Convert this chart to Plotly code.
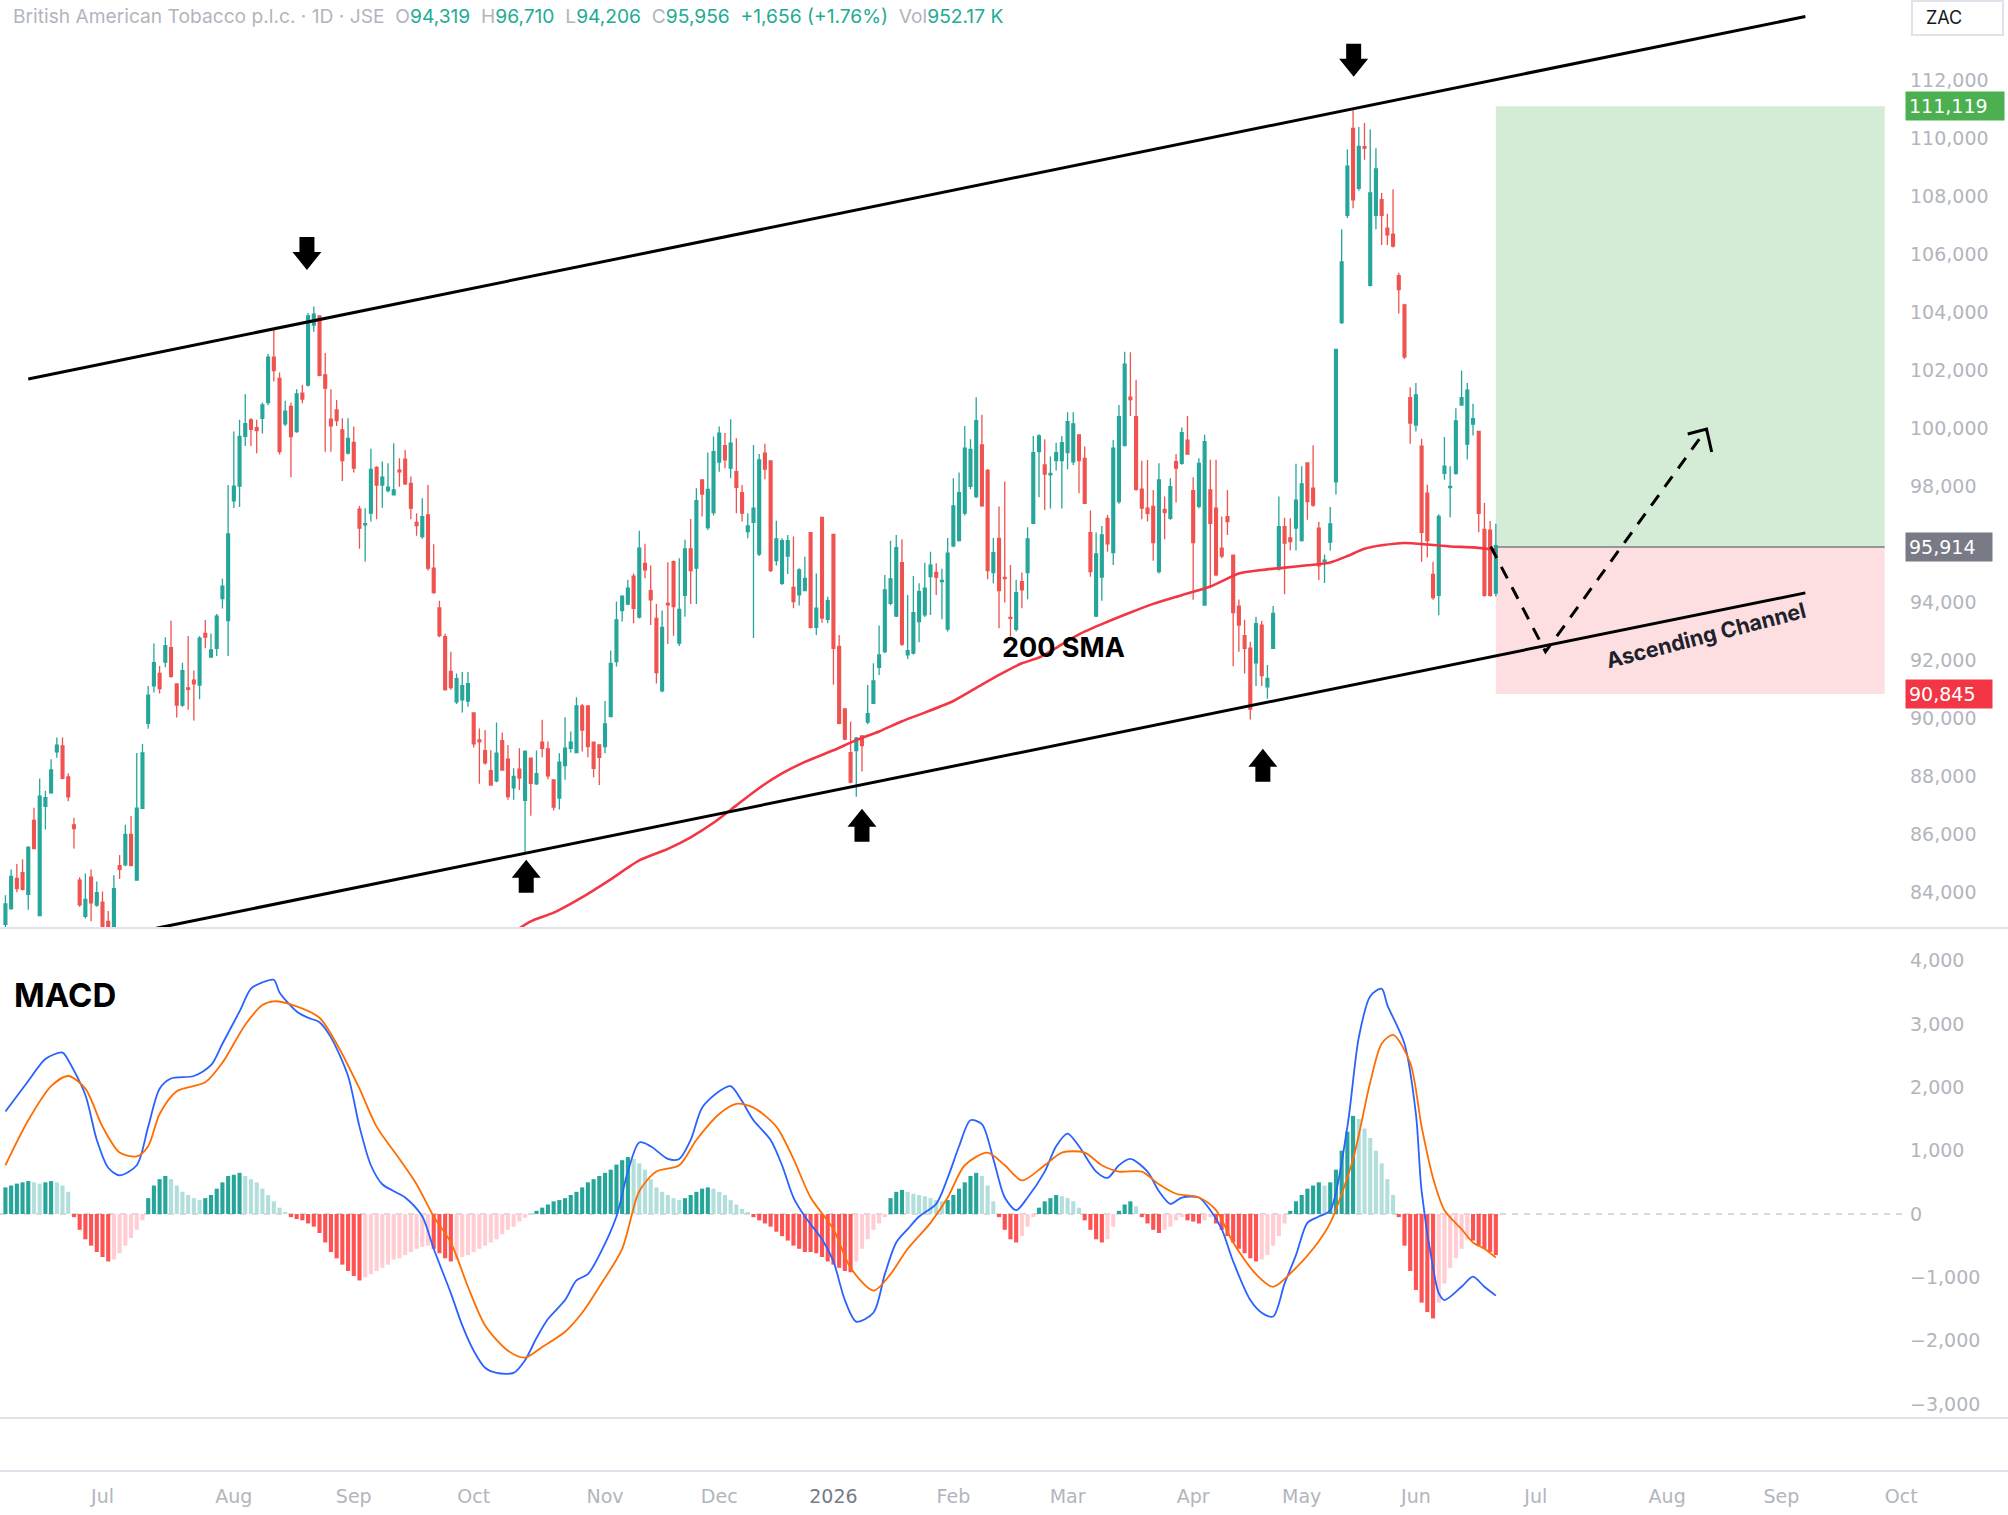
import numpy as np
import pandas as pd
import plotly.graph_objects as go

# ---------------- data ----------------
start_date = "2025-06-05"
jse_holidays = ["2025-06-16", "2025-09-24", "2025-12-16", "2025-12-25", "2025-12-26",
                "2026-01-01", "2026-04-03", "2026-04-06", "2026-04-27", "2026-05-01",
                "2026-06-16", "2026-08-10", "2026-09-24"]

# prices in thousands of ZAC
open_k = [
    82.9, 83.44, 84.48, 84.68, 83.93, 86.48, 83.2, 86.97, 87.43, 88.85,
    89.05, 87.98, 86.33, 84.42, 83.17, 84.52, 83.56, 83.66, 83.0, 82.8,
    84.92, 84.95, 86.0, 84.42, 86.9, 89.83, 91.12, 91.55, 91.94, 92.44,
    91.19, 90.46, 91.05, 91.32, 91.15, 92.93, 92.11, 92.42, 94.13, 93.37,
    97.5, 98.01, 99.73, 100.3, 100.03, 100.35, 100.89, 102.46, 101.73, 100.16,
    100.76, 99.89, 101.22, 101.5, 103.57, 103.88, 101.85, 100.32, 100.64, 99.95,
    99.15, 99.52, 97.22, 96.68, 97.08, 98.66, 98.05, 97.86, 97.71, 98.56,
    98.94, 98.11, 96.76, 96.27, 97.02, 95.18, 93.81, 92.82, 91.62, 90.57,
    90.64, 90.6, 90.19, 89.26, 88.89, 88.2, 87.85, 89.23, 88.59, 87.6,
    88.25, 87.17, 88.63, 87.74, 89.18, 88.95, 87.88, 87.25, 88.37, 88.97,
    88.82, 90.43, 90.43, 89.18, 89.09, 89.03, 90.06, 91.96, 93.72, 93.94,
    94.91, 93.49, 95.35, 94.41, 93.45, 90.95, 93.97, 95.41, 92.6, 94.24,
    95.85, 95.18, 98.23, 96.58, 97.1, 98.84, 99.41, 98.63, 98.51, 97.79,
    96.44, 96.76, 95.67, 99.15, 98.88, 95.44, 94.66, 95.6, 94.52, 94.26,
    94.41, 96.41, 93.14, 96.93, 93.42, 96.35, 92.48, 90.33, 88.82, 88.89,
    89.4, 89.87, 90.52, 91.76, 92.3, 93.97, 93.53, 95.37, 92.19, 92.25,
    93.34, 93.57, 94.89, 95.04, 94.72, 93.08, 95.95, 96.13, 97.08, 98.0,
    97.65, 99.43, 98.55, 95.03, 96.21, 94.86, 93.48, 93.07, 94.72, 95.03,
    96.73, 99.2, 98.74, 98.4, 98.89, 98.89, 99.17, 98.85, 99.78, 98.97,
    96.41, 93.53, 94.87, 96.9, 95.72, 97.48, 99.41, 101.08, 100.41, 97.91,
    97.25, 97.31, 95.06, 97.21, 96.9, 98.86, 98.8, 99.6, 97.86, 97.31,
    93.91, 97.88, 97.25, 95.87, 96.96, 95.63, 93.87, 92.85, 92.42, 91.92,
    93.22, 91.09, 92.42, 95.15, 96.61, 96.23, 96.56, 96.13, 98.81, 97.94,
    96.56, 95.42, 96.08, 98.16, 103.65, 107.35, 110.35, 108.28, 109.72, 104.94,
    107.35, 107.89, 106.91, 106.7, 105.27, 104.26, 101.06, 100.12, 99.39, 97.77,
    94.97, 94.24, 98.45, 97.96, 98.45, 100.81, 99.46, 100.15, 99.9, 96.52,
    96.49, 94.319]
high_k = [
    83.9, 84.79, 84.98, 85.14, 85.6, 86.92, 87.93, 87.5, 88.59, 89.34,
    89.34, 88.1, 86.57, 84.52, 84.65, 84.79, 84.37, 84.03, 83.36, 84.59,
    85.29, 86.33, 86.63, 88.81, 89.12, 91.12, 92.58, 91.81, 92.8, 93.37,
    91.2, 91.92, 92.84, 91.65, 92.84, 93.39, 92.93, 93.6, 94.82, 98.05,
    99.9, 100.3, 101.18, 100.35, 100.3, 100.9, 102.57, 103.4, 101.93, 100.96,
    100.9, 101.35, 101.5, 103.98, 104.21, 103.91, 102.6, 101.35, 100.98, 100.35,
    100.35, 100.07, 97.33, 97.25, 99.3, 98.7, 98.86, 98.8, 99.49, 98.97,
    99.26, 98.34, 97.08, 97.59, 98.05, 96.01, 94.06, 92.92, 92.3, 91.55,
    91.6, 91.6, 90.2, 89.65, 89.6, 88.9, 89.86, 89.51, 89.08, 88.28,
    88.97, 88.9, 88.65, 88.89, 89.95, 89.2, 87.9, 88.8, 90.04, 89.55,
    90.73, 90.5, 90.45, 89.2, 89.1, 90.6, 92.34, 94.03, 94.25, 94.78,
    95.0, 96.47, 96.02, 95.27, 93.95, 93.72, 95.39, 95.45, 95.52, 96.16,
    96.88, 97.94, 98.25, 99.17, 99.72, 100.07, 99.84, 100.32, 99.66, 98.05,
    97.08, 99.43, 99.12, 99.47, 98.9, 96.82, 96.21, 96.33, 96.27, 95.18,
    95.58, 96.42, 95.0, 96.95, 94.2, 96.37, 92.88, 90.35, 89.89, 89.36,
    89.42, 91.15, 91.9, 93.2, 94.95, 96.13, 96.33, 96.18, 94.26, 94.91,
    94.66, 95.37, 95.75, 95.35, 95.16, 96.22, 98.28, 98.48, 100.09, 99.63,
    101.08, 100.47, 98.6, 96.22, 97.31, 98.17, 95.29, 94.78, 95.03, 96.59,
    99.74, 99.8, 99.63, 99.03, 99.51, 99.74, 100.56, 100.56, 99.8, 99.38,
    97.17, 96.41, 96.64, 97.02, 99.6, 100.81, 102.65, 102.63, 101.68, 98.89,
    98.91, 97.88, 98.8, 97.65, 98.28, 99.12, 100.03, 100.43, 98.32, 98.97,
    99.78, 98.92, 98.92, 96.96, 97.88, 95.65, 94.1, 93.4, 92.64, 93.51,
    93.37, 91.84, 93.88, 97.65, 96.92, 96.9, 98.78, 98.7, 98.82, 99.42,
    96.78, 95.65, 97.29, 102.75, 106.87, 109.63, 110.98, 110.4, 110.54, 110.31,
    109.67, 108.13, 107.41, 108.25, 105.37, 104.3, 101.42, 101.57, 99.65, 98.06,
    95.4, 97.04, 99.71, 98.7, 100.7, 102.0, 101.57, 100.85, 99.9, 97.43,
    96.81, 96.71]
low_k = [
    82.6, 83.4, 84.0, 84.06, 83.4, 85.5, 83.2, 86.17, 87.4, 88.64,
    87.9, 87.14, 85.51, 83.5, 83.1, 83.0, 83.5, 82.7, 82.3, 82.6,
    84.46, 84.9, 84.9, 84.4, 86.9, 89.64, 90.89, 90.86, 91.76, 91.4,
    90.03, 90.4, 90.3, 89.93, 90.66, 92.42, 92.1, 92.15, 93.79, 92.15,
    97.26, 97.29, 99.4, 99.4, 99.15, 99.83, 100.8, 101.62, 99.1, 100.09,
    98.32, 99.85, 100.87, 101.45, 103.34, 101.8, 99.2, 99.2, 100.09, 98.19,
    99.1, 98.48, 95.85, 95.41, 96.79, 96.87, 97.27, 97.8, 97.7, 97.99,
    98.05, 96.87, 96.3, 96.2, 95.1, 94.3, 92.8, 90.95, 90.99, 90.5,
    90.2, 90.4, 89.0, 87.75, 88.4, 87.7, 87.8, 88.2, 87.19, 87.19,
    87.53, 85.35, 86.64, 87.7, 88.66, 87.9, 86.82, 86.86, 87.88, 88.82,
    88.8, 88.86, 88.66, 87.97, 87.7, 88.8, 90.05, 91.79, 93.34, 93.9,
    93.28, 93.45, 94.83, 93.22, 91.2, 90.9, 92.57, 92.85, 92.5, 93.51,
    93.95, 93.95, 96.96, 96.5, 97.0, 98.51, 98.63, 98.28, 97.08, 96.79,
    96.21, 92.77, 95.6, 98.25, 95.05, 95.27, 94.6, 94.98, 93.8, 93.89,
    94.4, 93.1, 92.88, 93.3, 93.28, 91.16, 89.8, 89.25, 87.76, 87.3,
    88.17, 89.8, 90.5, 91.5, 92.25, 93.9, 93.5, 92.5, 92.05, 92.2,
    92.63, 93.5, 93.57, 94.26, 93.42, 93.0, 95.9, 96.1, 97.0, 97.9,
    97.6, 97.3, 94.8, 94.66, 93.11, 94.0, 92.82, 93.0, 93.8, 94.11,
    96.7, 97.63, 97.19, 97.24, 98.55, 97.24, 98.59, 98.74, 97.77, 97.4,
    94.89, 93.5, 94.06, 95.75, 95.29, 97.4, 99.4, 100.43, 97.85, 96.87,
    96.79, 95.44, 95.0, 96.18, 96.85, 97.45, 98.75, 99.1, 94.09, 97.25,
    93.9, 94.49, 94.9, 95.52, 96.33, 91.8, 92.3, 91.55, 89.96, 91.12,
    91.12, 90.68, 92.4, 95.1, 94.28, 95.79, 95.79, 96.1, 96.85, 97.3,
    94.77, 94.67, 95.79, 97.72, 103.6, 107.26, 107.6, 108.2, 109.27, 104.9,
    106.87, 106.33, 106.33, 106.24, 103.97, 102.4, 99.47, 99.9, 95.4, 95.55,
    94.09, 93.56, 98.23, 96.93, 98.4, 100.8, 98.93, 99.76, 96.42, 94.2,
    94.2, 94.206]
close_k = [
    83.6, 84.55, 84.13, 84.1, 85.55, 85.51, 87.32, 87.27, 88.22, 89.08,
    87.93, 87.29, 86.2, 83.57, 83.76, 83.64, 83.99, 82.8, 82.5, 84.13,
    84.79, 86.0, 84.92, 86.9, 88.81, 90.8, 91.92, 91.03, 92.51, 91.45,
    90.46, 91.65, 91.0, 91.19, 92.77, 92.8, 92.36, 93.53, 94.56, 96.36,
    98.01, 99.73, 100.17, 99.97, 99.93, 100.81, 102.46, 102.0, 99.2, 100.6,
    99.72, 101.19, 101.01, 103.88, 103.94, 101.83, 101.39, 100.09, 100.27, 98.89,
    99.66, 98.63, 96.56, 96.72, 98.59, 98.05, 98.32, 97.98, 97.88, 98.5,
    98.09, 97.25, 96.65, 96.96, 95.18, 94.34, 92.86, 90.99, 91.06, 91.37,
    91.13, 91.2, 89.12, 89.19, 88.47, 87.7, 88.8, 88.22, 87.3, 88.0,
    87.94, 88.86, 87.76, 88.09, 88.97, 88.02, 86.94, 88.49, 88.97, 89.18,
    90.43, 89.6, 89.03, 88.28, 88.66, 89.81, 91.9, 93.4, 94.22, 94.49,
    93.8, 95.87, 95.12, 94.09, 91.58, 93.14, 93.92, 93.86, 93.76, 95.85,
    95.1, 97.51, 97.74, 97.9, 99.2, 99.84, 98.92, 99.49, 97.97, 97.08,
    96.64, 97.25, 98.92, 98.6, 95.1, 96.19, 96.13, 96.13, 94.03, 95.12,
    94.83, 93.14, 93.8, 93.46, 94.06, 92.42, 89.83, 89.29, 87.8, 89.32,
    89.06, 90.16, 91.29, 92.19, 94.43, 94.81, 95.89, 92.56, 92.34, 93.65,
    94.37, 94.49, 95.29, 94.87, 94.76, 95.7, 97.33, 97.79, 99.32, 99.28,
    100.27, 97.33, 95.1, 95.72, 94.41, 94.82, 93.45, 94.34, 94.43, 96.19,
    99.17, 99.74, 98.43, 98.45, 99.17, 99.51, 100.24, 100.16, 98.89, 97.42,
    95.06, 95.67, 96.33, 96.02, 99.32, 100.41, 102.22, 101.0, 97.9, 97.25,
    97.07, 96.06, 98.23, 97.1, 97.99, 98.63, 99.86, 99.12, 96.06, 98.8,
    99.55, 96.73, 94.95, 95.6, 96.79, 93.65, 93.22, 92.42, 90.32, 93.27,
    91.48, 91.38, 93.62, 96.61, 96.05, 96.1, 97.53, 98.09, 97.48, 97.36,
    95.26, 95.46, 96.71, 102.73, 105.75, 109.05, 107.89, 109.73, 109.67, 108.13,
    108.95, 107.35, 106.68, 106.29, 104.79, 102.47, 100.19, 101.16, 96.42, 96.13,
    94.17, 96.97, 98.7, 98.0, 100.26, 101.06, 101.32, 100.34, 97.07, 94.24,
    94.24, 95.956]

# 200-day SMA, read at sampled bars (bar index, thousands)
sma_idx = [88, 92, 96, 102, 106, 111, 116, 120, 124, 128, 132, 136, 140, 145, 149, 153,
           157, 161, 166, 170, 174, 178, 181, 185, 188, 192, 197, 201, 206, 211, 216,
           220, 224, 228, 232, 235, 238, 241, 245, 249, 253, 257, 261]
sma_k = [82.5, 83.0, 83.3, 83.95, 84.45, 85.1, 85.5, 85.9, 86.4, 87.0, 87.6, 88.1, 88.5,
         88.9, 89.25, 89.55, 89.9, 90.2, 90.6, 91.05, 91.5, 91.9, 92.1, 92.55, 92.9, 93.25,
         93.65, 93.95, 94.25, 94.55, 95.0, 95.12, 95.2, 95.28, 95.38, 95.6, 95.85, 95.97,
         96.05, 96.0, 95.93, 95.9, 95.82]

# MACD line and signal line, read at sampled bars (thousands)
macd_idx = [0, 4, 7, 10, 11, 14, 16, 18, 20, 23, 25, 27, 29, 33, 36, 38, 41, 43, 45, 47,
            48, 51, 53, 55, 57, 60, 62, 64, 66, 70, 73, 75, 78, 80, 82, 84, 86, 89, 91, 93,
            95, 98, 100, 102, 104, 107, 109, 111, 113, 116, 118, 120, 122, 125, 127, 129,
            131, 134, 136, 138, 140, 143, 145, 147, 149, 152, 154, 156, 158, 160, 163, 165,
            167, 169, 171, 173, 175, 177, 179, 182, 184, 186, 188, 191, 193, 195, 197, 200,
            202, 204, 206, 209, 211, 213, 215, 218, 220, 222, 224, 226, 228, 230, 232, 235,
            237, 239, 241, 242, 245, 247, 248, 250, 251, 252, 255, 257, 259, 261]
macd_k = [1.62, 2.1, 2.45, 2.55, 2.43, 1.88, 1.17, 0.73, 0.61, 0.77, 1.38, 1.98, 2.14, 2.18,
          2.35, 2.69, 3.2, 3.56, 3.66, 3.7, 3.5, 3.2, 3.1, 3.03, 2.79, 2.18, 1.38, 0.77, 0.47,
          0.26, -0.04, -0.55, -1.25, -1.76, -2.16, -2.43, -2.51, -2.51, -2.31, -1.96, -1.66,
          -1.36, -1.05, -0.95, -0.65, -0.04, 0.67, 1.13, 1.07, 0.87, 0.87, 1.17, 1.68, 1.94,
          2.02, 1.78, 1.48, 1.17, 0.77, 0.26, -0.04, -0.4, -0.75, -1.36, -1.7, -1.56, -0.95,
          -0.45, -0.24, -0.04, 0.16, 0.57, 1.07, 1.48, 1.42, 0.87, 0.26, 0.06, 0.26, 0.67,
          1.07, 1.27, 1.07, 0.67, 0.57, 0.77, 0.87, 0.67, 0.36, 0.16, 0.26, 0.26, 0.06, -0.24,
          -0.75, -1.36, -1.56, -1.62, -1.1, -0.65, -0.14, -0.04, 0.06, 1.38, 2.79, 3.44, 3.56,
          3.3, 2.69, 1.58, 0.36, -0.85, -1.25, -1.36, -1.15, -0.99, -1.15, -1.29]
signal_idx = [0, 4, 8, 11, 14, 17, 20, 23, 25, 27, 30, 35, 38, 42, 45, 47, 51, 55, 58, 62,
              65, 69, 72, 75, 78, 81, 84, 88, 91, 94, 98, 101, 104, 108, 111, 114, 118, 121,
              125, 128, 131, 135, 138, 141, 145, 148, 152, 155, 158, 162, 165, 168, 172, 175,
              178, 182, 185, 189, 192, 195, 199, 202, 205, 209, 212, 215, 219, 222, 226, 229,
              232, 236, 239, 241, 243, 246, 248, 250, 252, 255, 257, 259, 261]
signal_k = [0.77, 1.48, 2.02, 2.18, 1.98, 1.38, 0.97, 0.91, 1.07, 1.58, 1.94, 2.08, 2.39,
            2.99, 3.3, 3.36, 3.28, 3.1, 2.69, 1.98, 1.38, 0.87, 0.47, -0.04, -0.45, -1.15,
            -1.76, -2.16, -2.27, -2.1, -1.86, -1.56, -1.15, -0.55, 0.36, 0.67, 0.77, 1.17,
            1.58, 1.74, 1.68, 1.38, 0.87, 0.26, -0.24, -0.85, -1.21, -0.95, -0.55, -0.14, 0.26,
            0.77, 0.97, 0.77, 0.53, 0.77, 0.97, 0.97, 0.77, 0.67, 0.67, 0.47, 0.32, 0.26, 0.06,
            -0.45, -0.95, -1.15, -0.85, -0.55, -0.14, 0.87, 2.08, 2.69, 2.83, 2.39, 1.38, 0.57,
            0.06, -0.24, -0.45, -0.55, -0.69]

# MACD histogram, one value per bar (thousands)
hist_k = [
    0.42, 0.45, 0.48, 0.5, 0.52, 0.5, 0.48, 0.5, 0.52, 0.5, 0.45, 0.35,
    -0.05, -0.25, -0.4, -0.5, -0.6, -0.68, -0.75, -0.72, -0.62, -0.5, -0.38, -0.25, -0.1,
    0.25, 0.45, 0.55, 0.6, 0.55, 0.45, 0.35, 0.3, 0.25, 0.22, 0.25, 0.3, 0.4, 0.5, 0.6,
    0.62, 0.65, 0.6, 0.55, 0.5, 0.4, 0.3, 0.2,
    0.1, 0.02, -0.05, -0.08, -0.1,
    -0.15, -0.2, -0.3, -0.45, -0.6, -0.7, -0.8, -0.9, -0.98, -1.05, -1.0, -0.95,
    -0.9, -0.85, -0.8, -0.72, -0.7, -0.65, -0.6, -0.55, -0.52, -0.5,
    -0.55, -0.62, -0.7, -0.75, -0.72, -0.68, -0.65, -0.6, -0.55,
    -0.5, -0.45, -0.4, -0.32, -0.25, -0.2, -0.12, -0.06, 0.0,
    0.05, 0.1, 0.15, 0.2, 0.22, 0.25, 0.3, 0.35, 0.42, 0.5, 0.55, 0.6, 0.65, 0.7, 0.78,
    0.85, 0.9, 0.87,
    0.8, 0.7, 0.55, 0.42, 0.35, 0.3, 0.25, 0.22,
    0.25, 0.3, 0.35, 0.4, 0.42, 0.4, 0.35, 0.3,
    0.22, 0.15, 0.08, 0.02, -0.05,
    -0.1, -0.15, -0.2, -0.28, -0.35, -0.42, -0.5, -0.55, -0.6, -0.6, -0.62, -0.68, -0.75,
    -0.8, -0.85, -0.9, -0.92,
    -0.75, -0.55, -0.4, -0.25, -0.15, -0.05,
    0.25, 0.35, 0.38, 0.35, 0.32, 0.3, 0.28, 0.25, 0.22, 0.2, 0.22, 0.3, 0.4, 0.5, 0.6,
    0.65, 0.6, 0.45,
    0.2, -0.05, -0.25, -0.4, -0.45,
    -0.35, -0.2, -0.05, 0.1,
    0.2, 0.25, 0.3, 0.28, 0.25, 0.2, 0.1,
    -0.1, -0.25, -0.4, -0.45, -0.4,
    -0.2, 0.05, 0.15, 0.2, 0.12,
    -0.05, -0.15, -0.25, -0.3, -0.25, -0.2, -0.1,
    -0.05, -0.1, -0.12, -0.15, -0.1, -0.05,
    -0.15, -0.25, -0.35, -0.45, -0.55, -0.62, -0.7, -0.75, -0.72, -0.65, -0.5,
    -0.35, -0.15, 0.05, 0.2, 0.3, 0.4,
    0.45, 0.5, 0.45, 0.5, 0.7,
    1.0, 1.3, 1.55,
    1.5, 1.35, 1.2, 1.0, 0.8, 0.55, 0.3,
    -0.05, -0.5, -0.9, -1.2, -1.4, -1.55, -1.65,
    -1.4, -1.1, -0.85, -0.7, -0.55, -0.4,
    -0.42, -0.5, -0.55, -0.6, -0.65]

# trade-plan levels (ZAC)
target_price = 111119
entry_price = 95914
stop_price = 90845

price_ticks = list(range(84000, 112001, 2000))
macd_ticks = [-3000, -2000, -1000, 0, 1000, 2000, 3000, 4000]

# ---------------- derived ----------------
n = len(close_k)
idx = np.arange(n)
o = np.array(open_k) * 1000
h = np.array(high_k) * 1000
l = np.array(low_k) * 1000
c = np.array(close_k) * 1000
hist = np.array(hist_k[:n]) * 1000

days = pd.bdate_range(start_date, periods=460)
days = days[~days.isin(pd.to_datetime(jse_holidays))]

X_MIN, X_MAX = -0.95, 332.3
tick_vals, tick_text = [], []
for k in range(1, 340):
    if days[k].month != days[k - 1].month:
        tick_vals.append(k)
        if days[k].month == 1:
            tick_text.append("<span style='color:#787b86'>%d</span>" % days[k].year)
        else:
            tick_text.append(days[k].strftime("%b"))

UP, DN = "#26a69a", "#ef5350"
GRAY_TXT = "#b2b5be"
hist_colors = []
for k, v in enumerate(hist):
    prev = hist[k - 1] if k > 0 else v
    if v >= 0:
        hist_colors.append("#26a69a" if v >= prev else "#b2dfdb")
    else:
        hist_colors.append("#ffcdd2" if v > prev else "#ff5252")

W, H = 2008, 1515
ML, MR, MT, MB = 0, 105, 0, 43
PW = W - ML - MR
PH = H - MT - MB  # plot height 1472
PRICE_BOTTOM_PX = 928
MACD_BOTTOM_PX = 1418
price_dom = [1 - PRICE_BOTTOM_PX / PH, 1]
macd_dom = [1 - MACD_BOTTOM_PX / PH, 1 - PRICE_BOTTOM_PX / PH]

fig = go.Figure()

fig.add_trace(go.Bar(x=idx, y=hist, marker=dict(color=hist_colors, line=dict(width=0)),
                     width=0.72, xaxis="x", yaxis="y2", showlegend=False, hoverinfo="skip"))
fig.add_trace(go.Scatter(x=macd_idx, y=np.array(macd_k) * 1000, mode="lines",
                         line=dict(color="#2962ff", width=1.8, shape="spline", smoothing=0.8),
                         xaxis="x", yaxis="y2", showlegend=False, hoverinfo="skip"))
fig.add_trace(go.Scatter(x=signal_idx, y=np.array(signal_k) * 1000, mode="lines",
                         line=dict(color="#ff6d00", width=1.8, shape="spline", smoothing=0.8),
                         xaxis="x", yaxis="y2", showlegend=False, hoverinfo="skip"))

fig.add_trace(go.Candlestick(
    x=idx, open=o, high=h, low=l, close=c,
    increasing=dict(line=dict(color=UP, width=1.3), fillcolor=UP),
    decreasing=dict(line=dict(color=DN, width=1.3), fillcolor=DN),
    whiskerwidth=0, xaxis="x", yaxis="y", showlegend=False, hoverinfo="skip"))

fig.add_trace(go.Scatter(x=sma_idx, y=np.array(sma_k) * 1000, mode="lines",
                         line=dict(color="#f23645", width=2.6, shape="spline", smoothing=0.6),
                         xaxis="x", yaxis="y", showlegend=False, hoverinfo="skip"))

# projected path (dashed)
proj_x = [260.1, 269.7, 297.9]
proj_y = [95930, 92300, 99980]
fig.add_trace(go.Scatter(x=proj_x, y=proj_y, mode="lines",
                         line=dict(color="#000000", width=3, dash="13px,10px"),
                         xaxis="x", yaxis="y", showlegend=False, hoverinfo="skip"))
fig.add_trace(go.Scatter(x=[294.6, 297.9, 298.8], y=[99810, 99980, 99190], mode="lines",
                         line=dict(color="#000000", width=3),
                         xaxis="x", yaxis="y", showlegend=False, hoverinfo="skip"))

shapes = []
# position tool boxes
shapes.append(dict(type="rect", xref="x", yref="y", x0=261, x1=329.1, y0=entry_price, y1=target_price,
                   fillcolor="rgba(76,175,80,0.24)", line=dict(width=0), layer="below"))
shapes.append(dict(type="rect", xref="x", yref="y", x0=261, x1=329.1, y0=stop_price, y1=entry_price,
                   fillcolor="rgba(242,54,69,0.16)", line=dict(width=0), layer="below"))
shapes.append(dict(type="line", xref="x", yref="y", x0=261, x1=329.1, y0=entry_price, y1=entry_price,
                   line=dict(color="#787b86", width=1.5), layer="below"))
# MACD zero line
shapes.append(dict(type="line", xref="paper", yref="y2", x0=0, x1=1, y0=0, y1=0,
                   line=dict(color="#b2b5be", width=1.2, dash="6px,6px"), layer="below"))
# channel lines
shapes.append(dict(type="line", xref="x", yref="y", x0=4.0, y0=101710, x1=315.2, y1=114210,
                   line=dict(color="#000000", width=3)))
shapes.append(dict(type="line", xref="x", yref="y", x0=26.4, y0=82760, x1=315.2, y1=94330,
                   line=dict(color="#000000", width=3)))
# block arrows (pixel-sized, anchored at tip)
down_path = "M-7.5,33 L7.5,33 L7.5,18 L14.5,18 L0,0 L-14.5,18 L-7.5,18 Z"
up_path = "M-7.5,-33 L7.5,-33 L7.5,-18 L14.5,-18 L0,0 L-14.5,-18 L-7.5,-18 Z"
for ax_, ay_, p in [(52.8, 105470, down_path), (236.1, 112130, down_path),
                    (91.2, 85120, up_path), (150.0, 86880, up_path), (220.2, 88950, up_path)]:
    shapes.append(dict(type="path", xref="x", yref="y", xsizemode="pixel", ysizemode="pixel",
                       xanchor=ax_, yanchor=ay_, path=p, fillcolor="#000000",
                       line=dict(width=0)))
# pane separators
for ypx in [PRICE_BOTTOM_PX, MACD_BOTTOM_PX, PH - 1]:
    yp = 1 - ypx / PH
    shapes.append(dict(type="line", xref="paper", yref="paper", x0=0, x1=W / PW, y0=yp, y1=yp,
                       line=dict(color="#e0e3eb", width=2)))
# ZAC box
shapes.append(dict(type="path", xref="paper", yref="paper",
                   path=(f"M{1912 / PW},{1 - 1 / PH} L{2003 / PW},{1 - 1 / PH} "
                         f"L{2003 / PW},{1 - 35 / PH} L{1912 / PW},{1 - 35 / PH} Z"),
                   line=dict(color="#e0e3eb", width=2), fillcolor="white"))

annotations = []
font_txt = "Inter, Roboto, sans-serif"
annotations.append(dict(xref="paper", yref="paper", x=1944 / PW, y=1 - 17 / PH, text="ZAC",
                        xanchor="center", yanchor="middle",
                        showarrow=False, font=dict(family=font_txt, size=18, color="#131722")))

hdr_g = "#b2b5be"
hdr_v = "#22ab94"
sp = "\u00a0\u00a0"
header = (f"<span style='color:{hdr_g}'>British American Tobacco p.l.c. · 1D · JSE</span>{sp}"
          f"<span style='color:{hdr_g}'>O</span><span style='color:{hdr_v}'>94,319</span>{sp}"
          f"<span style='color:{hdr_g}'>H</span><span style='color:{hdr_v}'>96,710</span>{sp}"
          f"<span style='color:{hdr_g}'>L</span><span style='color:{hdr_v}'>94,206</span>{sp}"
          f"<span style='color:{hdr_g}'>C</span><span style='color:{hdr_v}'>95,956</span>{sp}"
          f"<span style='color:{hdr_v}'>+1,656 (+1.76%)</span>{sp}"
          f"<span style='color:{hdr_g}'>Vol</span><span style='color:{hdr_v}'>952.17\u00a0K</span>")
annotations.append(dict(xref="paper", yref="paper", x=11 / PW, y=1 - 16 / PH, text=header,
                        xanchor="left", yanchor="middle", showarrow=False,
                        font=dict(family=font_txt, size=19.2, color=hdr_g)))

annotations.append(dict(xref="x", yref="y", x=185.2, y=92430, text="<b>200 SMA</b>", showarrow=False,
                        font=dict(family=font_txt, size=27, color="#000000")))
annotations.append(dict(xref="x", yref="y", x=297.8, y=92890, text="<b>Ascending Channel</b>",
                        showarrow=False, textangle=-14.5,
                        font=dict(family=font_txt, size=21.5, color="#1e222d")))
annotations.append(dict(xref="paper", yref="paper", x=12 / PW, y=1 - 995 / PH, text="<b>MACD</b>",
                        xanchor="left", yanchor="middle", showarrow=False,
                        font=dict(family=font_txt, size=33, color="#000000")))

# price-scale labels
for val, col, wbox in [(target_price, "#4caf50", 92), (entry_price, "#787b86", 80), (stop_price, "#f23645", 80)]:
    annotations.append(dict(xref="paper", yref="y", x=1905 / PW, y=val, text=f"{val:,}",
                            xanchor="left", yanchor="middle", showarrow=False, align="left",
                            bgcolor=col, borderpad=3, width=wbox,
                            font=dict(family="DejaVu Sans", size=19, color="white")))

axis_font = dict(family="DejaVu Sans", size=19, color=GRAY_TXT)
fig.update_layout(
    width=W, height=H, margin=dict(l=ML, r=MR, t=MT, b=MB),
    paper_bgcolor="white", plot_bgcolor="white",
    showlegend=False, hovermode=False, bargap=0.2,
    xaxis=dict(range=[X_MIN, X_MAX], anchor="free", position=0, showgrid=False, zeroline=False,
               showline=False, tickvals=tick_vals, ticktext=tick_text, ticks="",
               tickfont=axis_font, ticklabelstandoff=11, rangeslider=dict(visible=False),
               fixedrange=True),
    yaxis=dict(domain=price_dom, range=[82770, 114780], side="right", anchor="x",
               showgrid=False, zeroline=False, showline=False, ticks="",
               tickvals=price_ticks, ticktext=[f"{v:,}" for v in price_ticks],
               tickfont=axis_font, ticklabelstandoff=6),
    yaxis2=dict(domain=macd_dom, range=[-3223, 4518], side="right", anchor="x",
                showgrid=False, zeroline=False, showline=False, ticks="",
                tickvals=macd_ticks,
                ticktext=[("\u2212" if v < 0 else "") + f"{abs(v):,}" for v in macd_ticks],
                tickfont=axis_font, ticklabelstandoff=6),
    shapes=shapes, annotations=annotations,
)

fig.write_html("out.html")
